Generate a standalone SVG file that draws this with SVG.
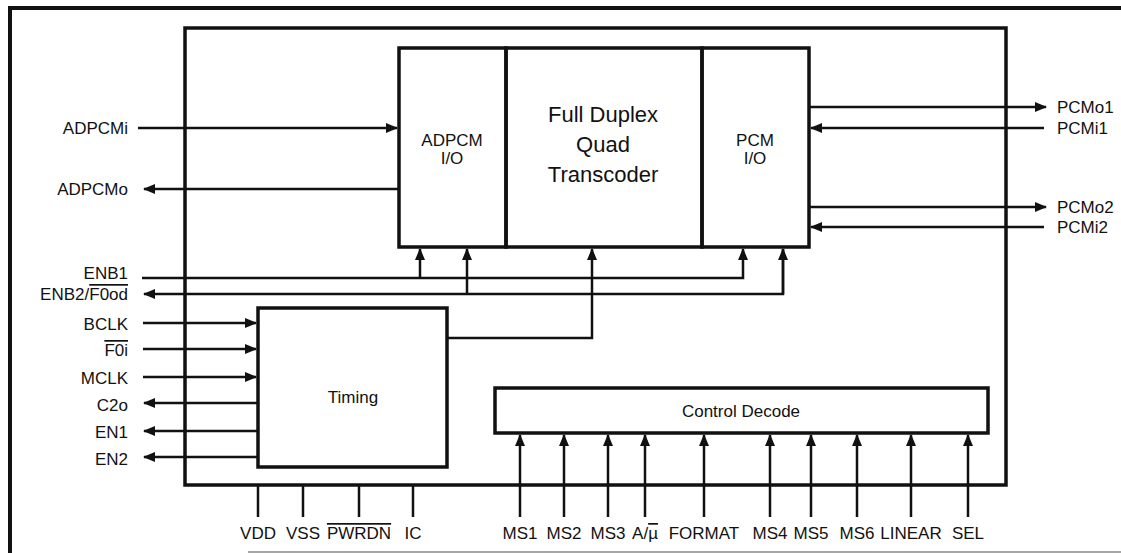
<svg xmlns="http://www.w3.org/2000/svg" width="1121" height="553" viewBox="0 0 1121 553">
<style>
text{font-family:"Liberation Sans",Arial,sans-serif;fill:#111}
.lbl{font-size:17px}
.r{text-anchor:end}
.m{text-anchor:middle}
.big{font-size:22px;text-anchor:middle}
.box{fill:none;stroke:#111;stroke-width:3.5}
.w{fill:none;stroke:#111;stroke-width:2.5}
.ol{text-decoration:overline}
</style>
<defs>
<marker id="ah" markerUnits="userSpaceOnUse" markerWidth="12" markerHeight="10" refX="11" refY="5" orient="auto">
<path d="M0,0 L12,5 L0,10 z" fill="#111"/>
</marker>
</defs>
<rect width="1121" height="553" fill="#fff"/>
<g id="frame">
<path d="M10,553 V8 H1121" fill="none" stroke="#111" stroke-width="4"/>
<line x1="248" y1="552" x2="1121" y2="552" stroke="#888" stroke-width="1.5"/>
</g>
<g id="chip"><rect class="box" x="185" y="28" width="821" height="457"/></g>
<g id="adpcm-io"><rect class="box" x="399" y="48" width="107" height="199"/>
<text class="lbl m" x="452" y="146">ADPCM</text>
<text class="lbl m" x="452" y="164">I/O</text></g>
<g id="transcoder"><rect class="box" x="506" y="48" width="196" height="199"/>
<text class="big" x="603" y="122">Full Duplex</text>
<text class="big" x="603" y="152">Quad</text>
<text class="big" x="603" y="182">Transcoder</text></g>
<g id="pcm-io"><rect class="box" x="702" y="48" width="107" height="199"/>
<text class="lbl m" x="755" y="146">PCM</text>
<text class="lbl m" x="755" y="164">I/O</text></g>
<g id="timing"><rect class="box" x="258" y="308" width="189" height="159"/>
<text class="lbl m" x="353" y="403">Timing</text></g>
<g id="control-decode"><rect class="box" x="495" y="388" width="493" height="45"/>
<text class="lbl m" x="741" y="417">Control Decode</text></g>
<g id="connectors">
<line class="w" x1="138" y1="128" x2="397" y2="128" marker-end="url(#ah)"/>
<line class="w" x1="399" y1="189" x2="144" y2="189" marker-end="url(#ah)"/>
<line class="w" x1="809" y1="107" x2="1046" y2="107" marker-end="url(#ah)"/>
<line class="w" x1="1044" y1="128" x2="811" y2="128" marker-end="url(#ah)"/>
<line class="w" x1="809" y1="207" x2="1046" y2="207" marker-end="url(#ah)"/>
<line class="w" x1="1044" y1="227" x2="811" y2="227" marker-end="url(#ah)"/>
<polyline class="w" points="142,278 743,278 743,249" marker-end="url(#ah)"/>
<line class="w" x1="420" y1="278" x2="420" y2="249" marker-end="url(#ah)"/>
<polyline class="w" points="783,249 783,294 144,294" marker-end="url(#ah)"/>
<line class="w" x1="783" y1="294" x2="783" y2="249" marker-end="url(#ah)"/>
<line class="w" x1="467" y1="294" x2="467" y2="249" marker-end="url(#ah)"/>
<polyline class="w" points="447,338 592,338 592,249" marker-end="url(#ah)"/>
<line class="w" x1="143" y1="323" x2="256" y2="323" marker-end="url(#ah)"/>
<line class="w" x1="143" y1="349" x2="256" y2="349" marker-end="url(#ah)"/>
<line class="w" x1="143" y1="377" x2="256" y2="377" marker-end="url(#ah)"/>
<line class="w" x1="258" y1="403" x2="144" y2="403" marker-end="url(#ah)"/>
<line class="w" x1="258" y1="431" x2="144" y2="431" marker-end="url(#ah)"/>
<line class="w" x1="258" y1="457" x2="144" y2="457" marker-end="url(#ah)"/>
<line class="w" x1="258" y1="485" x2="258" y2="517"/>
<line class="w" x1="303" y1="485" x2="303" y2="517"/>
<line class="w" x1="359" y1="485" x2="359" y2="517"/>
<line class="w" x1="413" y1="485" x2="413" y2="517"/>
<line class="w" x1="520" y1="517" x2="520" y2="435" marker-end="url(#ah)"/>
<line class="w" x1="564" y1="517" x2="564" y2="435" marker-end="url(#ah)"/>
<line class="w" x1="608" y1="517" x2="608" y2="435" marker-end="url(#ah)"/>
<line class="w" x1="645" y1="517" x2="645" y2="435" marker-end="url(#ah)"/>
<line class="w" x1="704" y1="517" x2="704" y2="435" marker-end="url(#ah)"/>
<line class="w" x1="770" y1="517" x2="770" y2="435" marker-end="url(#ah)"/>
<line class="w" x1="811" y1="517" x2="811" y2="435" marker-end="url(#ah)"/>
<line class="w" x1="857" y1="517" x2="857" y2="435" marker-end="url(#ah)"/>
<line class="w" x1="911" y1="517" x2="911" y2="435" marker-end="url(#ah)"/>
<line class="w" x1="968" y1="517" x2="968" y2="435" marker-end="url(#ah)"/>
</g>
<g id="labels">
<text class="lbl r" x="128" y="134">ADPCMi</text>
<text class="lbl r" x="128" y="195">ADPCMo</text>
<text class="lbl" x="1057" y="113">PCMo1</text>
<text class="lbl" x="1057" y="134">PCMi1</text>
<text class="lbl" x="1057" y="213">PCMo2</text>
<text class="lbl" x="1057" y="233">PCMi2</text>
<text class="lbl r" x="128" y="279">ENB1</text>
<text class="lbl r" x="128" y="300">ENB2/<tspan class="ol">F0od</tspan></text>
<text class="lbl r" x="128" y="330">BCLK</text>
<text class="lbl r" x="128" y="356"><tspan class="ol">F0i</tspan></text>
<text class="lbl r" x="128" y="384">MCLK</text>
<text class="lbl r" x="128" y="411">C2o</text>
<text class="lbl r" x="128" y="438">EN1</text>
<text class="lbl r" x="128" y="465">EN2</text>
<text class="lbl m" x="258" y="539">VDD</text>
<text class="lbl m" x="303" y="539">VSS</text>
<text class="lbl m" x="359" y="539"><tspan class="ol">PWRDN</tspan></text>
<text class="lbl m" x="413" y="539">IC</text>
<text class="lbl m" x="520" y="539">MS1</text>
<text class="lbl m" x="564" y="539">MS2</text>
<text class="lbl m" x="608" y="539">MS3</text>
<text class="lbl m" x="645" y="539">A/<tspan class="ol">µ</tspan></text>
<text class="lbl m" x="704" y="539">FORMAT</text>
<text class="lbl m" x="770" y="539">MS4</text>
<text class="lbl m" x="811" y="539">MS5</text>
<text class="lbl m" x="857" y="539">MS6</text>
<text class="lbl m" x="911" y="539">LINEAR</text>
<text class="lbl m" x="968" y="539">SEL</text>
</g>
</svg>
